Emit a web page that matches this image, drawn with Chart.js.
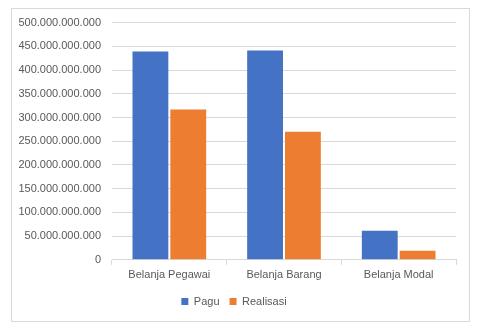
<!DOCTYPE html>
<html>
<head>
<meta charset="utf-8">
<script src="https://cdn.jsdelivr.net/npm/chart.js@4.4.0/dist/chart.umd.min.js"></script>
<style>
  body { margin: 0; background: #fff; }
  #box {
    position: absolute; left: 11px; top: 8px;
    width: 459px; height: 314px;
    box-sizing: border-box; border: 1px solid #d9d9d9;
  }
  #chart { position: absolute; left: 0; top: -4px; }
</style>
</head>
<body>
<div id="box"><canvas id="chart" width="457" height="312"></canvas></div>
<script>
const categories = ['Belanja Pegawai', 'Belanja Barang', 'Belanja Modal'];
const pagu = [439000000000, 441000000000, 61000000000];
const realisasi = [317000000000, 270000000000, 19000000000];

function formatDots(v) {
    return Math.round(v).toString().replace(/\B(?=(\d{3})+(?!\d))/g, '.');
}

const textColor = '#595959';
const fontFam = '"Liberation Sans", Arial, sans-serif';

const ctx = document.getElementById('chart').getContext('2d');
const chart = new Chart(ctx, {
    type: 'bar',
    data: {
        labels: categories,
        datasets: [
            { label: 'Pagu', data: pagu, backgroundColor: '#4472C4' },
            { label: 'Realisasi', data: realisasi, backgroundColor: '#ED7D31' }
        ]
    },
    options: {
        responsive: false,
        animation: false,
        layout: { padding: { top: 9, right: 13, left: 0, bottom: 0 } },
        datasets: { bar: { categoryPercentage: 0.66, barPercentage: 0.947 } },
        plugins: {
            legend: {
                position: 'bottom',
                labels: {
                    boxWidth: 7, boxHeight: 7, padding: 10,
                    color: textColor,
                    font: { family: fontFam, size: 11 }
                }
            },
            tooltip: { enabled: false }
        },
        scales: {
            x: {
                grid: { drawOnChartArea: false, drawTicks: true, tickLength: 5, offset: true, color: '#d9d9d9' },
                border: { color: '#d9d9d9' },
                ticks: { color: textColor, font: { family: fontFam, size: 11 }, padding: 4 },
            },
            y: {
                min: 0, max: 500000000000,
                grid: { color: '#d9d9d9', drawTicks: false },
                border: { display: false },
                ticks: {
                    stepSize: 50000000000,
                    color: textColor,
                    font: { family: fontFam, size: 11 },
                    padding: 11,
                    callback: v => formatDots(v)
                },
                afterFit: s => { s.width = 100; }
            }
        }
    }
});
</script>
</body>
</html>
